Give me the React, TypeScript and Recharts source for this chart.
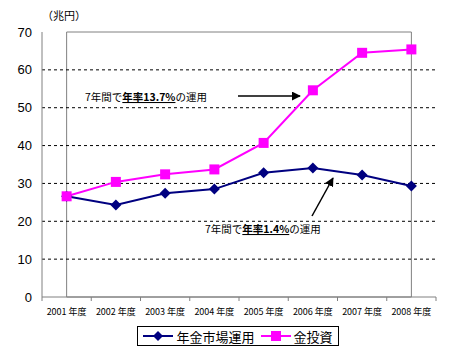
import { LineChart, Line, XAxis, YAxis, ReferenceLine, ReferenceArea } from 'recharts';

const YEARS = ['2001年度', '2002年度', '2003年度', '2004年度', '2005年度', '2006年度', '2007年度', '2008年度'];
const PENSION = [26.6, 24.3, 27.4, 28.5, 32.8, 34.1, 32.2, 29.3];
const GOLD = [26.6, 30.4, 32.4, 33.7, 40.7, 54.6, 64.5, 65.4];
const Y_TICKS = [0, 10, 20, 30, 40, 50, 60, 70];
const GRID_LINES = [10, 20, 30, 40, 50, 60];

const SERIES = [
  { key: 'pension', label: '年金市場運用', color: '#000080', shape: 'diamond' },
  { key: 'gold', label: '金投資', color: '#FF00FF', shape: 'square' },
];

const data = YEARS.map((year, i) => ({ year, pension: PENSION[i], gold: GOLD[i] }));

const FONT = '"Noto Sans CJK JP", "Liberation Sans", sans-serif';
const BAND = (450 - 42 - 14) / YEARS.length;

const renderDiamond = (props: any) => {
  const { cx, cy, fill, index } = props;
  if (cx == null || cy == null) return <g key={`d${index}`} />;
  const r = 5.5;
  return (
    <polygon
      key={`d${index}`}
      points={`${cx},${cy - r} ${cx + r},${cy} ${cx},${cy + r} ${cx - r},${cy}`}
      fill={fill}
    />
  );
};

const renderSquare = (props: any) => {
  const { cx, cy, fill, index } = props;
  if (cx == null || cy == null) return <g key={`s${index}`} />;
  return <rect key={`s${index}`} x={cx - 5} y={cy - 5} width={10} height={10} fill={fill} />;
};

function YearTick({ x, y, payload, index }: any) {
  const label = String(payload.value);
  return (
    <g>
      <line x1={x + BAND / 2} y1={y - 8} x2={x + BAND / 2} y2={y - 4} stroke="#808080" />
      {index === 0 && <line x1={x - BAND / 2} y1={y - 8} x2={x - BAND / 2} y2={y - 4} stroke="#808080" />}
      <text x={x} y={y + 10} textAnchor="middle" fontSize={9} fill="#000" fontFamily={FONT}>
        {label.replace('年度', ' 年度')}
      </text>
    </g>
  );
}

function Annotation({ x, y, pre, bold, post }: { x: number; y: number; pre: string; bold: string; post: string }) {
  return (
    <text x={x} y={y} fontSize={10.5} fontFamily={FONT} fill="#000">
      {pre}
      <tspan fontWeight="bold" textDecoration="underline">{bold}</tspan>
      {post}
    </text>
  );
}

export default function App() {
  return (
    <div style={{ position: 'absolute', left: 0, top: 0, width: 450, height: 354, background: '#fff', fontFamily: FONT }}>
      <LineChart width={450} height={354} data={data} margin={{ top: 32, right: 14, left: 0, bottom: 33 }}>
        <ReferenceArea y1={0} y2={70} fill="none" stroke="#808080" strokeWidth={1} ifOverflow="visible" />
        {GRID_LINES.map((v) => (
          <ReferenceLine key={v} y={v} stroke="#000" strokeDasharray="3 3" strokeWidth={1} />
        ))}
        <XAxis
          dataKey="year"
          height={24}
          axisLine={{ stroke: '#808080' }}
          tickLine={false}
          tick={<YearTick />}
          interval={0}
          padding={{ left: BAND / 2, right: BAND / 2 }}
        />
        <YAxis
          width={42}
          domain={[0, 70]}
          ticks={Y_TICKS}
          axisLine={{ stroke: '#808080' }}
          tickLine={false}
          tick={{ fontSize: 13, fill: '#000', fontFamily: '"Liberation Sans", Arial, sans-serif' }}
          tickMargin={4}
        />
        <Line
          dataKey="pension"
          stroke="#000080"
          strokeWidth={2}
          fill="#000080"
          dot={renderDiamond}
          activeDot={false}
          isAnimationActive={false}
        />
        <Line
          dataKey="gold"
          stroke="#FF00FF"
          strokeWidth={2}
          fill="#FF00FF"
          dot={renderSquare}
          activeDot={false}
          isAnimationActive={false}
        />
      </LineChart>

      <svg width={450} height={354} style={{ position: 'absolute', left: 0, top: 0, pointerEvents: 'none' }}>
        <defs>
          <marker id="arrow" viewBox="0 0 10 10" refX="9" refY="5" markerWidth="6" markerHeight="6" orient="auto">
            <path d="M0,0 L10,5 L0,10 z" fill="#000" />
          </marker>
        </defs>
        <text x={42} y={20} fontSize={11} fontFamily={FONT} fill="#000">（兆円）</text>
        <Annotation x={85} y={101} pre="7年間で" bold="年率13.7%" post="の運用" />
        <line x1={238} y1={96} x2={300} y2={96} stroke="#000" strokeWidth={1.5} markerEnd="url(#arrow)" />
        <Annotation x={205} y={233} pre="7年間で" bold="年率1.4%" post="の運用" />
        <line x1={312} y1={216} x2={333} y2={178} stroke="#000" strokeWidth={1.5} markerEnd="url(#arrow)" />
      </svg>

      <div
        style={{
          position: 'absolute',
          left: 137,
          top: 326,
          width: 202,
          height: 20,
          border: '1px solid #000',
          boxSizing: 'border-box',
          display: 'flex',
          alignItems: 'center',
          justifyContent: 'center',
          gap: 6,
          fontSize: 13,
          background: '#fff',
        }}
      >
        {SERIES.map((s) => (
          <span key={s.key} style={{ display: 'flex', alignItems: 'center', gap: 3 }}>
            <svg width={30} height={12}>
              <line x1={0} y1={6} x2={30} y2={6} stroke={s.color} strokeWidth={2} />
              {s.shape === 'diamond' ? (
                <polygon points="15,1 20,6 15,11 10,6" fill={s.color} />
              ) : (
                <rect x={10} y={1} width={10} height={10} fill={s.color} />
              )}
            </svg>
            <span>{s.label}</span>
          </span>
        ))}
      </div>
    </div>
  );
}
